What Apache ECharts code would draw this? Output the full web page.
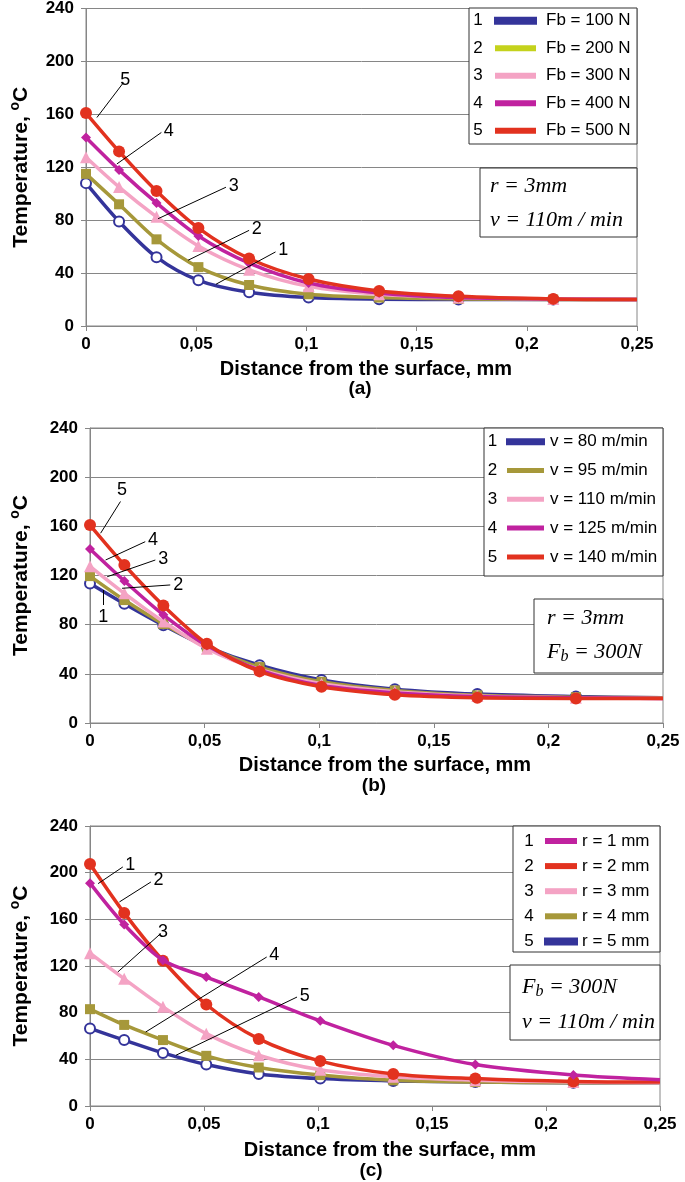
<!DOCTYPE html>
<html><head><meta charset="utf-8">
<script src="https://cdn.jsdelivr.net/npm/echarts@6/dist/echarts.min.js"></script>
<style>html,body{margin:0;padding:0;background:#fff}#c{width:685px;height:1182px}</style>
</head><body><div id="c"></div><script>
// ---- data ----
const xs = [0, 0.015, 0.032, 0.051, 0.074, 0.101, 0.133, 0.169, 0.212, 0.25];
const xTickLabels = ['0', '0,05', '0,1', '0,15', '0,2', '0,25'];
const yTicks = [0, 40, 80, 120, 160, 200, 240];

const namesA = ['Fb = 100 N', 'Fb = 200 N', 'Fb = 300 N', 'Fb = 400 N', 'Fb = 500 N'];
const a1 = [108, 79, 52, 34.5, 25.5, 21.5, 20.3, 20, 20, 20];
const a2 = [115, 92, 65.5, 44.5, 31, 24, 21.5, 20.5, 20, 20];
const a3 = [127.5, 105, 82.5, 60.5, 42.5, 30, 24, 21.5, 20.5, 20];
const a4 = [142.5, 118, 93, 68, 47.5, 32.5, 25, 21.5, 20.5, 20];
const a5 = [161, 132, 102, 74, 51, 35.5, 26.5, 22.5, 20.5, 20];

const namesB = ['v = 80 m/min', 'v = 95 m/min', 'v = 110 m/min', 'v = 125 m/min', 'v = 140 m/min'];
const b1 = [113.5, 97, 79.5, 62, 47, 35, 27.5, 23.5, 21.5, 20.5];
const b2 = [119.5, 100, 80.5, 62, 45.5, 33.5, 26.5, 22.5, 21, 20.5];
const b3 = [127.5, 105.5, 82.5, 60.5, 43.5, 32, 25.5, 22, 20.5, 20];
const b4 = [141.5, 115.5, 88, 63, 43, 30.5, 24.5, 21.5, 20.5, 20];
const b5 = [161, 128.5, 95.5, 64.5, 42, 29.5, 23, 20.5, 20, 20];

const namesC = ['r = 1 mm', 'r = 2 mm', 'r = 3 mm', 'r = 4 mm', 'r = 5 mm'];
const c1 = [191, 155.5, 125, 110.5, 93.5, 73, 52, 35.5, 26.5, 22.5];
const c2 = [207.5, 165.5, 124.5, 87, 57.5, 38.5, 27.5, 23.5, 21, 20.5];
const c3 = [131, 109, 85, 62, 43.5, 31, 25, 22, 20.5, 20];
const c4 = [83, 69.5, 56.5, 43, 33, 26.5, 22, 20.5, 20, 20];
const c5 = [66.5, 56.5, 45.5, 35.5, 27.5, 23.5, 21.5, 20.5, 20, 20];

// leader lines (data coordinates: start on curve, end at label)
const leadersA = [[[0.059, 31.6], [0.086, 56]], [[0.0463, 49.7], [0.074, 72.3]], [[0.0327, 81.1], [0.0635, 104.9]], [[0.014, 122.5], [0.0342, 146.3]], [[0.00495, 157.6], [0.017, 184]]];
const leadersB = [[[0.0058, 108.2], [0.0058, 96]], [[0.014, 109.6], [0.035, 112.3]], [[0.0075, 119], [0.0285, 132.6]], [[0.0068, 132.6], [0.0241, 147.5]], [[0.00463, 154.4], [0.0133, 180.2]]];
const leadersC = [[[0.00355, 190.6], [0.0144, 204.9]], [[0.0129, 174.9], [0.0267, 192]], [[0.0122, 114.9], [0.031, 147.8]], [[0.0244, 63.4], [0.0775, 127.7]], [[0.0377, 43.5], [0.0908, 93.4]]];

// ---- styles ----
const F = "'Liberation Sans', Arial, sans-serif";
const SERIF = "'Liberation Serif', 'Times New Roman', serif";
const BLUE = '#34349a', OLIVE = '#a6983a', PINK = '#f4a3c4', MAG = '#c0229f', RED = '#e2321f';
const GRID_C = '#868686';
const sty = {
  blue: {color: BLUE, symbol: 'emptyCircle', size: 10},
  olive: {color: OLIVE, symbol: 'rect', size: 10},
  pink: {color: PINK, symbol: 'triangle', size: 12},
  mag: {color: MAG, symbol: 'diamond', size: 10},
  red: {color: RED, symbol: 'circle', size: 12}
};

const grids = [
  {left: 82, top: 8, width: 555, height: 318},
  {left: 86, top: 428, width: 577, height: 295},
  {left: 84, top: 826, width: 576, height: 280}
];

function mkSeries(name, vals, s, gi, leader, num, z) {
  return {
    type: 'line', name, xAxisIndex: gi, yAxisIndex: gi,
    smooth: 0.3,
    symbol: s.symbol, symbolSize: s.size,
    lineStyle: {width: 3.5, color: s.color},
    itemStyle: {color: s.color, borderColor: s.color, borderWidth: s.symbol === 'emptyCircle' ? 1.5 : 0},
    z: z, animation: false, silent: true,
    data: xs.map((x, i) => i === xs.length - 1 ? {value: [x, vals[i]], symbol: 'none'} : [x, vals[i]]),
    markLine: {
      silent: true, animation: false, symbol: ['none', 'none'],
      lineStyle: {color: '#000', width: 1, type: 'solid'},
      label: {show: true, position: 'end', formatter: String(num), fontSize: 18, fontFamily: F, color: '#000', distance: 3},
      data: [[{coord: leader[0]}, {coord: leader[1]}]]
    }
  };
}

const series = [];
const setA = [[a1, sty.blue], [a2, sty.olive], [a3, sty.pink], [a4, sty.mag], [a5, sty.red]];
const setB = [[b1, sty.blue], [b2, sty.olive], [b3, sty.pink], [b4, sty.mag], [b5, sty.red]];
const setC = [[c1, sty.mag], [c2, sty.red], [c3, sty.pink], [c4, sty.olive], [c5, sty.blue]];
setA.forEach((d, i) => series.push(mkSeries(namesA[i], d[0], d[1], 0, leadersA[i], i + 1, 2 + i * 0.1)));
setB.forEach((d, i) => series.push(mkSeries(namesB[i], d[0], d[1], 1, leadersB[i], i + 1, 2 + i * 0.1)));
setC.forEach((d, i) => series.push(mkSeries(namesC[i], d[0], d[1], 2, leadersC[i], i + 1, 2.5 - i * 0.1)));

function xAxis(gi, gap, shift) {
  return {
    type: 'value', gridIndex: gi, min: 0, max: 0.25, interval: 0.05,
    axisLine: {show: true, lineStyle: {color: GRID_C, width: 1}},
    axisTick: {show: true, length: 5, lineStyle: {color: GRID_C}},
    splitLine: {show: false},
    axisLabel: {fontSize: 17, fontWeight: 'bold', fontFamily: F, color: '#000', margin: 10,
      formatter: v => xTickLabels[Math.round(v / 0.05)]},
    name: 'Distance from the surface, mm', nameLocation: 'middle', nameGap: gap,
    nameTextStyle: {fontSize: 20, fontWeight: 'bold', fontFamily: F, color: '#000', padding: [0, 0, 0, shift]}
  };
}
function yAxis(gi, gap) {
  return {
    type: 'value', gridIndex: gi, min: yTicks[0], max: yTicks[yTicks.length - 1], interval: 40,
    axisLine: {show: true, lineStyle: {color: GRID_C, width: 1}},
    axisTick: {show: true, length: 5, lineStyle: {color: GRID_C}},
    splitLine: {show: true, lineStyle: {color: GRID_C, width: 1}},
    axisLabel: {fontSize: 17, fontWeight: 'bold', fontFamily: F, color: '#000', margin: 12},
    name: '{t|Temperature, }{s|o}{t|C}', nameLocation: 'middle', nameGap: gap, nameRotate: 90,
    nameTextStyle: {
      rich: {
        t: {fontSize: 21, fontWeight: 'bold', fontFamily: F, color: '#000', lineHeight: 26},
        s: {fontSize: 14, fontWeight: 'bold', fontFamily: F, color: '#000', lineHeight: 10, verticalAlign: 'top'}
      }
    }
  };
}

function legend(names, left, top, iw, ih, gap, tp, colors) {
  return {
    orient: 'vertical', left, top, itemWidth: iw, itemHeight: ih, itemGap: gap, icon: 'rect',
    padding: 0, selectedMode: false, z: 8,
    textStyle: {fontSize: 17, fontFamily: F, color: '#000', lineHeight: 20, padding: [0, 0, 0, tp]},
    data: names.map((n, i) => colors && colors[i] ? {name: n, itemStyle: {color: colors[i]}} : {name: n})
  };
}

function box(x, y, w, h) {
  return {type: 'rect', shape: {x, y, width: w, height: h}, style: {fill: '#fff', stroke: '#333', lineWidth: 1}, z: 5, silent: true};
}
function txt(t, x, y, opts) {
  return {type: 'text', z: 7, silent: true, style: Object.assign({text: t, x, y, fill: '#000', font: '17px ' + F, textAlign: 'center', textVerticalAlign: 'middle'}, opts || {})};
}
const italic = {fontSize: 22, fontStyle: 'italic', fontFamily: SERIF, color: '#000'};
const sub = {fontSize: 16, fontStyle: 'italic', fontFamily: SERIF, color: '#000', padding: [10, 0, 0, 0]};
function rtxt(t, x, y) {
  return {type: 'text', z: 7, silent: true, style: {text: t, x, y, rich: {i: italic, b: sub}, textAlign: 'left', textVerticalAlign: 'middle'}};
}

const rowsA = [20.7, 48.3, 75.5, 103.2, 130.8];
const rowsB = [441.7, 470.5, 499.5, 528.5, 557.5];
const rowsC = [841, 866, 891, 916, 941.5];
const graphic = [
  box(469, 8, 168, 136), box(480, 168, 157, 69),
  box(484, 428, 179, 148), box(534, 599, 129, 74),
  box(513, 826, 147, 126), box(510, 965, 150, 75),
  rtxt('{i|r = 3mm}', 490, 186), rtxt('{i|v = 110m / min}', 490, 220),
  rtxt('{i|r = 3mm}', 547, 618), rtxt('{i|F}{b|b}{i| = 300N}', 547, 652),
  rtxt('{i|F}{b|b}{i| = 300N}', 522, 987), rtxt('{i|v = 110m / min}', 522, 1022),
  txt('(a)', 360, 389, {font: 'bold 19px ' + F}),
  txt('(b)', 374, 786, {font: 'bold 19px ' + F}),
  txt('(c)', 371, 1171, {font: 'bold 19px ' + F})
];
rowsA.forEach((y, i) => graphic.push(txt(String(i + 1), 478, y)));
rowsB.forEach((y, i) => graphic.push(txt(String(i + 1), 492.5, y)));
rowsC.forEach((y, i) => graphic.push(txt(String(i + 1), 529, y)));

const option = {
  backgroundColor: '#fff',
  animation: false,
  grid: grids.map(g => Object.assign({show: true, borderColor: GRID_C, borderWidth: 1, backgroundColor: 'transparent'}, g)),
  xAxis: [xAxis(0, 33, 9), xAxis(1, 32, 17), xAxis(2, 34, 30)],
  yAxis: [yAxis(0, 52), yAxis(1, 56), yAxis(2, 56)],
  legend: [
    legend(namesA, 494, 10.7, 41, 6, 7.5, 5, [null, '#c4d21c', null, null, null]),
    legend(namesB, 506, 431.7, 37, 5, 8.8, 1),
    legend(namesC, 544, 831, 32, 6, 5.1, 0)
  ],
  graphic: graphic,
  series: series
};
const chart = echarts.init(document.getElementById('c'));
chart.setOption(option);
</script></body></html>
